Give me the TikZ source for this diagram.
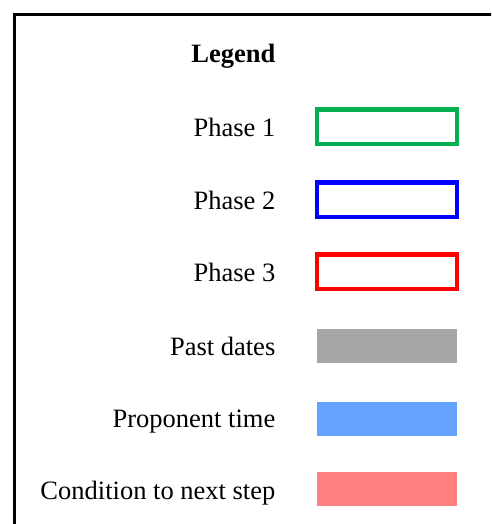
\documentclass[tikz,border=0pt]{standalone}
\usepackage{fontspec}
\setmainfont{Liberation Serif}
\definecolor{pgreen}{RGB}{0,176,80}
\definecolor{pblue}{RGB}{0,0,255}
\definecolor{pred}{RGB}{255,0,0}
\definecolor{pgray}{RGB}{166,166,166}
\definecolor{plblue}{RGB}{102,163,255}
\definecolor{plred}{RGB}{255,128,128}
\begin{document}
\begin{tikzpicture}[x=1pt,y=-1pt,
  lbl/.style={anchor=base east,inner sep=0pt,font=\fontsize{26.5}{30}\selectfont},
  outl/.style={line width=4.7pt}]
\useasboundingbox (0,0) rectangle (491,524);
\begin{scope}
\clip (0,0) rectangle (491,524);
\draw[line width=3pt] (14.5,530) -- (14.5,15) -- (500,15);
\end{scope}
\node[lbl,font=\fontsize{26.5}{30}\selectfont\bfseries] (legend) at (275.5,62.5) {Legend};
\node[lbl] (p1) at (275.5,136) {Phase 1};
\node[lbl] (p2) at (275.5,209) {Phase 2};
\node[lbl] (p3) at (275.5,281.5) {Phase 3};
\node[lbl] (past) at (275.5,355) {Past dates};
\node[lbl] (prop) at (275.5,427) {Proponent time};
\node[lbl] (cond) at (275.5,499.5) {Condition to next step};
\draw[outl,pgreen] (317,109.5) rectangle (457,144);
\draw[outl,pblue] (317,182.5) rectangle (457,217);
\draw[outl,pred] (317,254.5) rectangle (457,289);
\fill[pgray] (317,329) rectangle (457,363);
\fill[plblue] (317,402) rectangle (457,436);
\fill[plred] (317,472) rectangle (457,506);
\end{tikzpicture}
\end{document}
